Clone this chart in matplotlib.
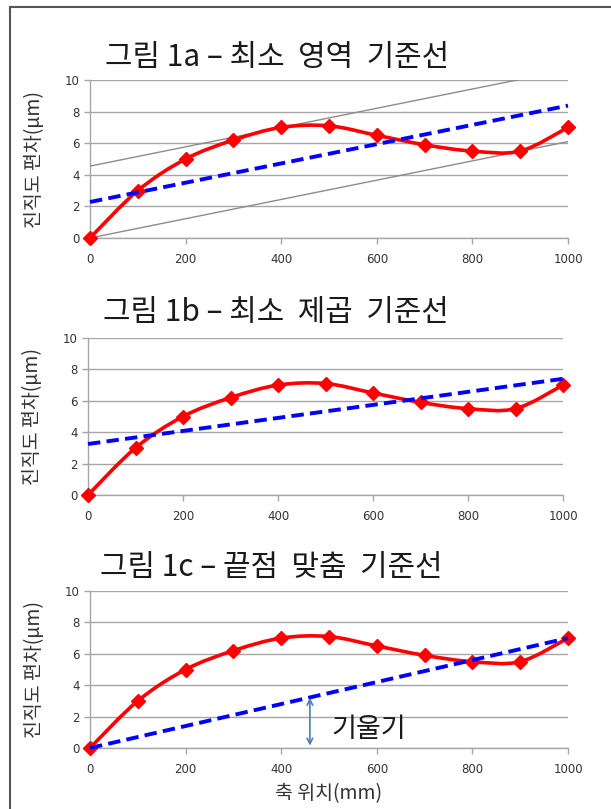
import matplotlib
matplotlib.use("Agg")
import matplotlib.pyplot as plt
from matplotlib.path import Path
from matplotlib.patches import PathPatch
import numpy as np

plt.rcParams['font.family'] = ['Noto Sans CJK KR', 'DejaVu Sans']

# ---- data ----
positions = [0, 100, 200, 300, 400, 500, 600, 700, 800, 900, 1000]
deviation = [0, 3, 5, 6.2, 7, 7.1, 6.5, 5.9, 5.5, 5.5, 7]

titles = ["그림 1a – 최소  영역  기준선", "그림 1b – 최소  제곱  기준선", "그림 1c – 끝점  맞춤  기준선"]
ylabel = "진직도 편차(μm)"
xlabel = "축 위치(mm)"

# reference lines (x0, y0, x1, y1)
ref_1a = (0, 2.28, 1000, 8.38)
zone_low_1a = (0, 0, 1000, 6.1)
zone_high_1a = (0, 4.55, 900, 10.04)
ref_1b = (0, 3.25, 1000, 7.4)
ref_1c = (0, 0, 1000, 7.0)

slope_arrow = (460, 3.2, 460, 0.15)
slope_label = "기울기"

xticks = [0, 200, 400, 600, 800, 1000]
yticks = [0, 2, 4, 6, 8, 10]


def smooth_path(xs, ys):
    """Bezier path (Excel-style smoothing) through the data points."""
    verts = [(xs[0], ys[0])]
    codes = [Path.MOVETO]
    n = len(xs)
    for i in range(n - 1):
        x0, y0 = xs[max(i - 1, 0)], ys[max(i - 1, 0)]
        x1, y1 = xs[i], ys[i]
        x2, y2 = xs[i + 1], ys[i + 1]
        x3, y3 = xs[min(i + 2, n - 1)], ys[min(i + 2, n - 1)]
        c1 = (x1 + (x2 - x0) / 6.0, y1 + (y2 - y0) / 6.0)
        c2 = (x2 - (x3 - x1) / 6.0, y2 - (y3 - y1) / 6.0)
        verts += [c1, c2, (x2, y2)]
        codes += [Path.CURVE4] * 3
    return Path(verts, codes)


fig = plt.figure(figsize=(6.11, 8.09), dpi=100)

# figure frame
fig.add_artist(plt.Line2D([10 / 611, 1.0], [1 - 7 / 809, 1 - 7 / 809], color='#555555', lw=1.5, transform=fig.transFigure))
fig.add_artist(plt.Line2D([10 / 611, 10 / 611], [0, 1 - 7 / 809], color='#555555', lw=1.5, transform=fig.transFigure))

boxes = [
    (90, 568, 80, 238),
    (88, 563, 338, 495),
    (90, 568, 591, 748),
]
title_y = [58, 313, 568]
title_x = [105, 103, 100]

axes = []
for k, (l, r, t, b) in enumerate(boxes):
    ax = fig.add_axes([l / 611, 1 - b / 809, (r - l) / 611, (b - t) / 809])
    axes.append(ax)
    ax.set_xlim(0, 1000)
    ax.set_ylim(0, 10)
    ax.set_xticks(xticks)
    ax.set_yticks(yticks)
    ax.grid(axis='y', color='#a6a6a6', lw=1.0)
    ax.set_axisbelow(True)
    for s in ['top', 'right']:
        ax.spines[s].set_visible(False)
    for s in ['left', 'bottom']:
        ax.spines[s].set_color('#a6a6a6')
        ax.spines[s].set_linewidth(1.0)
    ax.tick_params(axis='both', colors='#a6a6a6', labelcolor='#333333', labelsize=8.5, length=4, width=1)
    ax.tick_params(axis='x', pad=7)
    for lab in ax.get_xticklabels() + ax.get_yticklabels():
        lab.set_family(['DejaVu Sans'])
    ax.set_ylabel(ylabel, fontsize=14, color='#333333', labelpad=14)
    fig.text(title_x[k] / 611, 1 - title_y[k] / 809, titles[k], fontsize=21.5, color='#1a1a1a',
             ha='left', va='center')

    # data curve
    ax.add_patch(PathPatch(smooth_path(positions, deviation), fill=False, edgecolor='#ff0000', lw=2.6,
                           zorder=4, clip_on=False))
    ax.plot(positions, deviation, linestyle='none', marker='D', markersize=7, color='#ff0000',
            zorder=5, clip_on=False)

# panel 1 lines
a = axes[0]
for ln in (zone_low_1a, zone_high_1a):
    a.plot([ln[0], ln[2]], [ln[1], ln[3]], color='#8c8c8c', lw=1.0, zorder=3)
a.plot([ref_1a[0], ref_1a[2]], [ref_1a[1], ref_1a[3]], color='#0000ff', lw=2.8, ls=(0, (3.2, 1.6)), zorder=6,
       clip_on=False)

# panel 2
a = axes[1]
a.plot([ref_1b[0], ref_1b[2]], [ref_1b[1], ref_1b[3]], color='#0000ff', lw=2.8, ls=(0, (3.2, 1.6)), zorder=6,
       clip_on=False)

# panel 3
a = axes[2]
a.plot([ref_1c[0], ref_1c[2]], [ref_1c[1], ref_1c[3]], color='#0000ff', lw=2.8, ls=(0, (3.2, 1.6)), zorder=6,
       clip_on=False)
a.annotate('', xy=(slope_arrow[0], slope_arrow[1]), xytext=(slope_arrow[2], slope_arrow[3]),
           arrowprops=dict(arrowstyle='<->', color='#4a7ebb', lw=1.2, shrinkA=0, shrinkB=0), zorder=7)
a.text(505, 1.15, slope_label, fontsize=19.5, color='#1a1a1a', ha='left', va='center')
a.set_xlabel(xlabel, fontsize=14, color='#333333', labelpad=5)

fig.savefig('out.png', dpi=100)
